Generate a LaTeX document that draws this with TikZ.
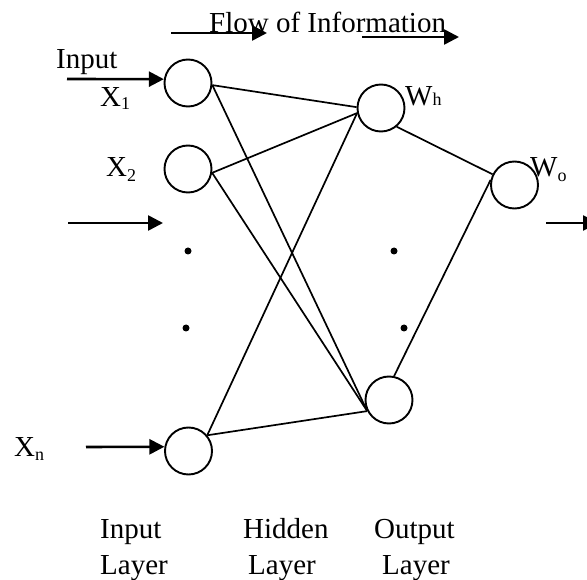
\documentclass[tikz,border=0pt]{standalone}
\usepackage{fontspec}
\setmainfont{Liberation Serif}
\usetikzlibrary{arrows.meta}
% small index set below the base line by #1
\newcommand\lowidx[2]{\raisebox{-#1pt}{\fontsize{18}{18}\selectfont #2}}
\begin{document}
\begin{tikzpicture}[x=1pt,y=-1pt,
  neuron/.style={circle,draw,line width=1.9pt,minimum size=47pt,inner sep=0pt},
  lbl/.style={anchor=base west,inner sep=0pt,font=\fontsize{29}{34}\selectfont},
  link/.style={line width=1.7pt},
  feed/.style={line width=2.6pt,-{Triangle[length=15pt,width=15pt]}},
  dotmark/.style={circle,fill,inner sep=0pt,minimum size=7pt}]
\useasboundingbox (0,0) rectangle (587,580);
\clip (0,0) rectangle (587,580);

% neurons
\node[neuron] (i1) at (188,83) {};
\node[neuron] (i2) at (188,169) {};
\node[neuron] (xn) at (188.5,451) {};
\node[neuron] (h1) at (381,108) {};
\node[neuron] (hn) at (389,400) {};
\node[neuron] (o)  at (514.5,185) {};

% ellipsis dots
\node[dotmark] (d1) at (188,251) {};
\node[dotmark] (d2) at (186,328) {};
\node[dotmark] (d3) at (394,251) {};
\node[dotmark] (d4) at (404,328) {};

% weighted connections
\draw[link] (i1.-5) -- (h1.178);
\draw[link] (i1.-5) -- (hn.207);
\draw[link] (i2.-9) -- (h1.192);
\draw[link] (i2.-9) -- (hn.207);
\draw[link] (xn.40) -- (h1.192);
\draw[link] (xn.40) -- (hn.207);
\draw[link] (h1.-50) -- (o.154);
\draw[link] (hn.78) -- (o.168);

% input and output arrows
\coordinate (inA) at (67,79);
\draw[feed] (inA) -- (i1.171);
\coordinate (midA) at (68,223);
\coordinate (midB) at (163,223);
\draw[feed] (midA) -- (midB);
\coordinate (xnA) at (86,447);
\draw[feed] (xnA) -- (xn.170);
\coordinate (outA) at (546,223);
\coordinate (outB) at (598,223);
\draw[feed] (outA) -- (outB);

% flow arrows
\coordinate (fa1) at (171,33);
\coordinate (fb1) at (267,33);
\draw[feed] (fa1) -- (fb1);
\coordinate (fa2) at (362,37);
\coordinate (fb2) at (459,37);
\draw[feed] (fa2) -- (fb2);

% labels
\node[lbl] (flow) at (209,33) {Flow of Information};
\node[lbl] (tin) at (56,69) {Input};
\node[lbl] (tx1) at (100,107) {X\lowidx{3}{1}};
\node[lbl] (tx2) at (106,177) {X\lowidx{5}{2}};
\node[lbl] (txn) at (14,456) {X\lowidx{4}{n}};
\node[lbl] (twh) at (405,106) {W\lowidx{0}{h}};
\node[lbl] (two) at (530,177) {W\lowidx{5}{o}};

\node[lbl] (l1a) at (100,538) {Input};
\node[lbl] (l1b) at (100,574) {Layer};
\node[lbl] (l2a) at (243,538) {Hidden};
\node[lbl] (l2b) at (248,574) {Layer};
\node[lbl] (l3a) at (374,538) {Output};
\node[lbl] (l3b) at (382,574) {Layer};
\end{tikzpicture}
\end{document}
